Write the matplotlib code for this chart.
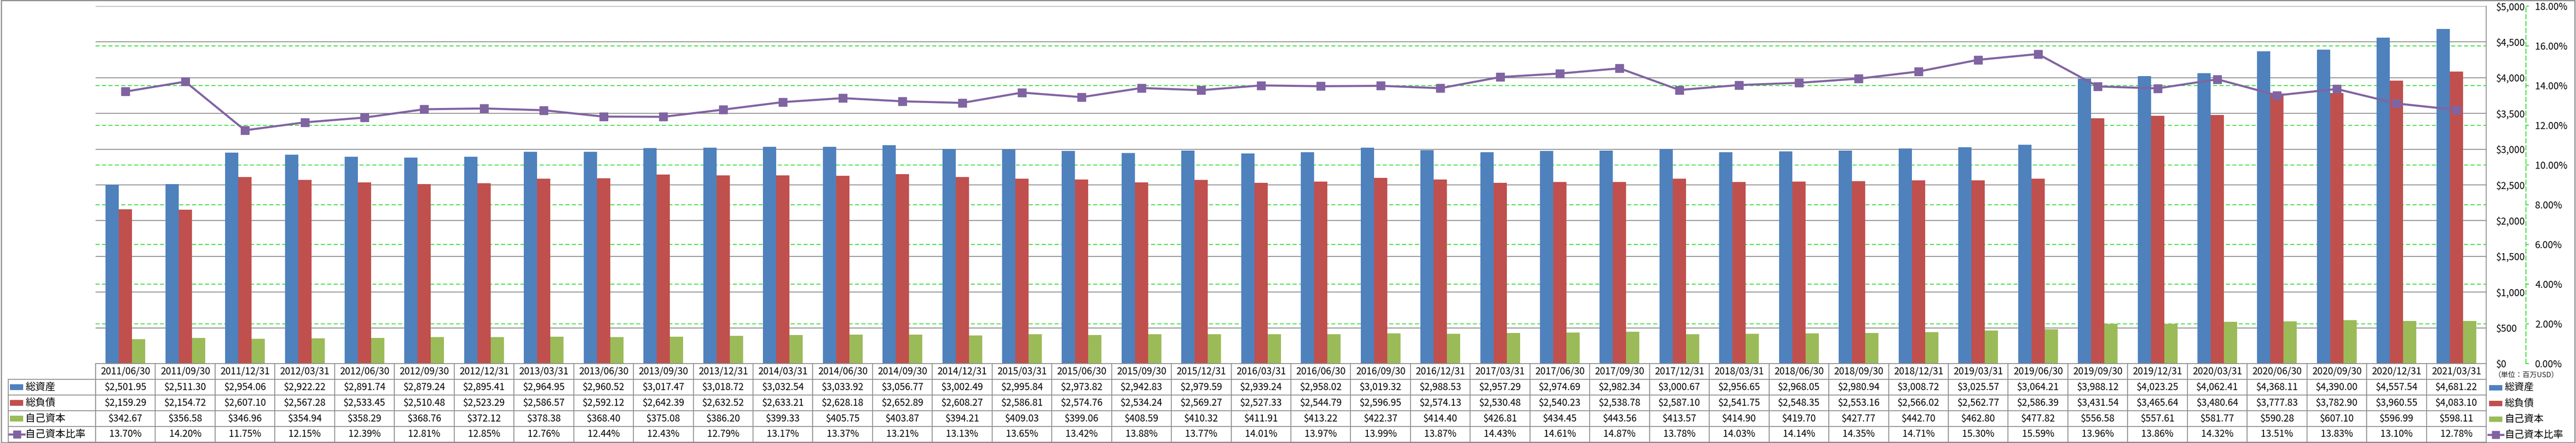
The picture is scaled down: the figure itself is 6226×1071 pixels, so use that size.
import matplotlib
matplotlib.use("Agg")
import matplotlib.pyplot as plt
from matplotlib.lines import Line2D
from matplotlib.patches import Rectangle
from matplotlib.transforms import blended_transform_factory
from matplotlib.ticker import FuncFormatter, MultipleLocator

plt.rcParams['font.family'] = ['Noto Sans CJK JP', 'DejaVu Sans']

# ---------------- data ----------------
dates = ["2011/06/30", "2011/09/30", "2011/12/31", "2012/03/31", "2012/06/30", "2012/09/30",
         "2012/12/31", "2013/03/31", "2013/06/30", "2013/09/30", "2013/12/31", "2014/03/31",
         "2014/06/30", "2014/09/30", "2014/12/31", "2015/03/31", "2015/06/30", "2015/09/30",
         "2015/12/31", "2016/03/31", "2016/06/30", "2016/09/30", "2016/12/31", "2017/03/31",
         "2017/06/30", "2017/09/30", "2017/12/31", "2018/03/31", "2018/06/30", "2018/09/30",
         "2018/12/31", "2019/03/31", "2019/06/30", "2019/09/30", "2019/12/31", "2020/03/31",
         "2020/06/30", "2020/09/30", "2020/12/31", "2021/03/31"]

total_assets = [2501.95, 2511.30, 2954.06, 2922.22, 2891.74, 2879.24, 2895.41, 2964.95, 2960.52, 3017.47,
                3018.72, 3032.54, 3033.92, 3056.77, 3002.49, 2995.84, 2973.82, 2942.83, 2979.59, 2939.24,
                2958.02, 3019.32, 2988.53, 2957.29, 2974.69, 2982.34, 3000.67, 2956.65, 2968.05, 2980.94,
                3008.72, 3025.57, 3064.21, 3988.12, 4023.25, 4062.41, 4368.11, 4390.00, 4557.54, 4681.22]

total_liabilities = [2159.29, 2154.72, 2607.10, 2567.28, 2533.45, 2510.48, 2523.29, 2586.57, 2592.12, 2642.39,
                     2632.52, 2633.21, 2628.18, 2652.89, 2608.27, 2586.81, 2574.76, 2534.24, 2569.27, 2527.33,
                     2544.79, 2596.95, 2574.13, 2530.48, 2540.23, 2538.78, 2587.10, 2541.75, 2548.35, 2553.16,
                     2566.02, 2562.77, 2586.39, 3431.54, 3465.64, 3480.64, 3777.83, 3782.90, 3960.55, 4083.10]

equity = [342.67, 356.58, 346.96, 354.94, 358.29, 368.76, 372.12, 378.38, 368.40, 375.08,
          386.20, 399.33, 405.75, 403.87, 394.21, 409.03, 399.06, 408.59, 410.32, 411.91,
          413.22, 422.37, 414.40, 426.81, 434.45, 443.56, 413.57, 414.90, 419.70, 427.77,
          442.70, 462.80, 477.82, 556.58, 557.61, 581.77, 590.28, 607.10, 596.99, 598.11]

equity_ratio = [13.70, 14.20, 11.75, 12.15, 12.39, 12.81, 12.85, 12.76, 12.44, 12.43,
                12.79, 13.17, 13.37, 13.21, 13.13, 13.65, 13.42, 13.88, 13.77, 14.01,
                13.97, 13.99, 13.87, 14.43, 14.61, 14.87, 13.78, 14.03, 14.14, 14.35,
                14.71, 15.30, 15.59, 13.96, 13.86, 14.32, 13.51, 13.83, 13.10, 12.78]

series_names = ["総資産", "総負債", "自己資本", "自己資本比率"]
unit_label = "（単位：百万USD）"

# ---------------- style ----------------
W, H = 6226, 1071
DPI = 100
C_BLUE, C_RED, C_GREEN, C_PURPLE = "#4F81BD", "#C0504D", "#9BBB59", "#8064A2"
C_GRID = "#8C8C8C"
C_GGRID = "#22DD22"
FS = 16.5

def fx(px):
    return px / W

def fy(py):
    return 1 - py / H

fig = plt.figure(figsize=(W / DPI, H / DPI), dpi=DPI)
fig.patch.set_facecolor("white")

PL, PR, PT, PB = 231, 6009, 15, 879
ax = fig.add_axes([fx(PL), fy(PB), fx(PR - PL), (PB - PT) / H])
ax2 = ax.twinx()

n = len(dates)
xs = list(range(n))
bw = 32 / ((PR - PL) / n)

ax.bar([x - bw for x in xs], total_assets, width=bw, color=C_BLUE, zorder=2)
ax.bar(xs, total_liabilities, width=bw, color=C_RED, zorder=2)
ax.bar([x + bw for x in xs], equity, width=bw, color=C_GREEN, zorder=2)

ax.set_xlim(-0.5, n - 0.5)
ax.set_ylim(0, 5000)
ax2.set_ylim(0, 18)

# gray gridlines ($ axis)
ax.yaxis.set_major_locator(MultipleLocator(500))
ax.yaxis.grid(True, color=C_GRID, lw=1.5, zorder=0)
ax.set_axisbelow(True)
ax.xaxis.set_visible(False)

# green dashed gridlines (% axis), drawn below bars
gtr = blended_transform_factory(ax.transAxes, ax2.transData)
for p in range(2, 18, 2):
    ax.plot([0, 1], [p, p], transform=gtr, color=C_GGRID, lw=1.4,
            ls=(0, (5, 3)), zorder=1, clip_on=False)

# $ axis on the right
ax.yaxis.tick_right()
ax.yaxis.set_major_formatter(FuncFormatter(lambda v, p: f"${v:,.0f}"))
ax.tick_params(axis="y", length=0, pad=17, labelsize=FS, colors="black")
for lab in ax.get_yticklabels():
    lab.set_horizontalalignment("left")
for s in ["left", "top", "bottom"]:
    ax.spines[s].set_visible(False)
ax.spines["right"].set_color(C_GRID)
ax.spines["right"].set_linewidth(1.5)

# % axis
ax2.plot(xs, equity_ratio, color=C_PURPLE, lw=3.6, marker="s", ms=15,
         mfc=C_PURPLE, mec=C_PURPLE, zorder=5, clip_on=False)
ax2.yaxis.set_major_locator(MultipleLocator(2))
ax2.yaxis.set_major_formatter(FuncFormatter(lambda v, p: f"{v:.2f}%"))
for s in ["left", "top", "bottom"]:
    ax2.spines[s].set_visible(False)
ax2.spines["right"].set_position(("outward", 96 * 0.72))
ax2.spines["right"].set_color(C_GGRID)
ax2.spines["right"].set_linestyle((0, (5, 3)))
ax2.spines["right"].set_linewidth(1.5)
ax2.tick_params(axis="y", length=5, width=1.5, color=C_GGRID, pad=11,
                labelsize=FS, labelcolor="black")
ax2.xaxis.set_visible(False)

# ---------------- data table ----------------
tb = blended_transform_factory(ax.transData, fig.transFigure)
tf = fig.transFigure
row_lines = [879, 917, 955, 993, 1031, 1069]
LC = "#8C8C8C"
LW = 1.5
TL = 20  # left edge of legend column

# header top line
fig.add_artist(Line2D([fx(PL), fx(PR)], [fy(879), fy(879)], transform=tf, color=LC, lw=LW))
for py in row_lines[1:]:
    fig.add_artist(Line2D([fx(TL), fx(PR)], [fy(py), fy(py)], transform=tf, color=LC, lw=LW))
for i in range(n + 1):
    fig.add_artist(Line2D([i - 0.5, i - 0.5], [fy(879), fy(1069)], transform=tb, color=LC, lw=LW))
fig.add_artist(Line2D([fx(TL), fx(TL)], [fy(917), fy(1069)], transform=tf, color=LC, lw=LW))

row_vals = [
    [f"${v:,.2f}" for v in total_assets],
    [f"${v:,.2f}" for v in total_liabilities],
    [f"${v:,.2f}" for v in equity],
    [f"{v:.2f}%" for v in equity_ratio],
]
for i, d in enumerate(dates):
    fig.text(i, fy(898), d, transform=tb, ha="center", va="center", fontsize=FS)
    for r in range(4):
        fig.text(i, fy(936 + 38 * r), row_vals[r][i], transform=tb,
                 ha="center", va="center", fontsize=FS)

# legend keys inside the table
colors = [C_BLUE, C_RED, C_GREEN]
for r in range(4):
    cy = 936 + 38 * r
    if r < 3:
        fig.add_artist(Rectangle((fx(24), fy(cy + 7)), fx(32), 14 / H,
                                 transform=tf, facecolor=colors[r], edgecolor="none"))
    else:
        fig.add_artist(Line2D([fx(23), fx(59)], [fy(cy), fy(cy)], transform=tf,
                              color=C_PURPLE, lw=3.6))
        fig.add_artist(Line2D([fx(41)], [fy(cy)], transform=tf, color=C_PURPLE,
                              marker="s", ms=13, mfc=C_PURPLE, mec=C_PURPLE, lw=0))
    fig.text(fx(61), fy(cy), series_names[r], transform=tf, ha="left", va="center", fontsize=17.5)

# right-side legend
fig.text(fx(6028), fy(906), unit_label, transform=tf, ha="left", va="center",
         fontsize=12.5, color="#222222")
for r in range(4):
    cy = 937 + 38 * r
    if r < 3:
        fig.add_artist(Rectangle((fx(6016), fy(cy + 6.5)), fx(32), 13 / H,
                                 transform=tf, facecolor=colors[r], edgecolor="none"))
    else:
        fig.add_artist(Line2D([fx(6014), fx(6050)], [fy(cy), fy(cy)], transform=tf,
                              color=C_PURPLE, lw=3.6))
        fig.add_artist(Line2D([fx(6032)], [fy(cy)], transform=tf, color=C_PURPLE,
                              marker="s", ms=13, mfc=C_PURPLE, mec=C_PURPLE, lw=0))
    fig.text(fx(6053), fy(cy), series_names[r], transform=tf, ha="left", va="center", fontsize=17)

# outer border
fig.add_artist(Rectangle((0.0005, 0.001), 0.999, 0.998, transform=tf, fill=False,
                         edgecolor="#8C8C8C", lw=2))

fig.savefig("out.png", dpi=DPI, facecolor="white")
